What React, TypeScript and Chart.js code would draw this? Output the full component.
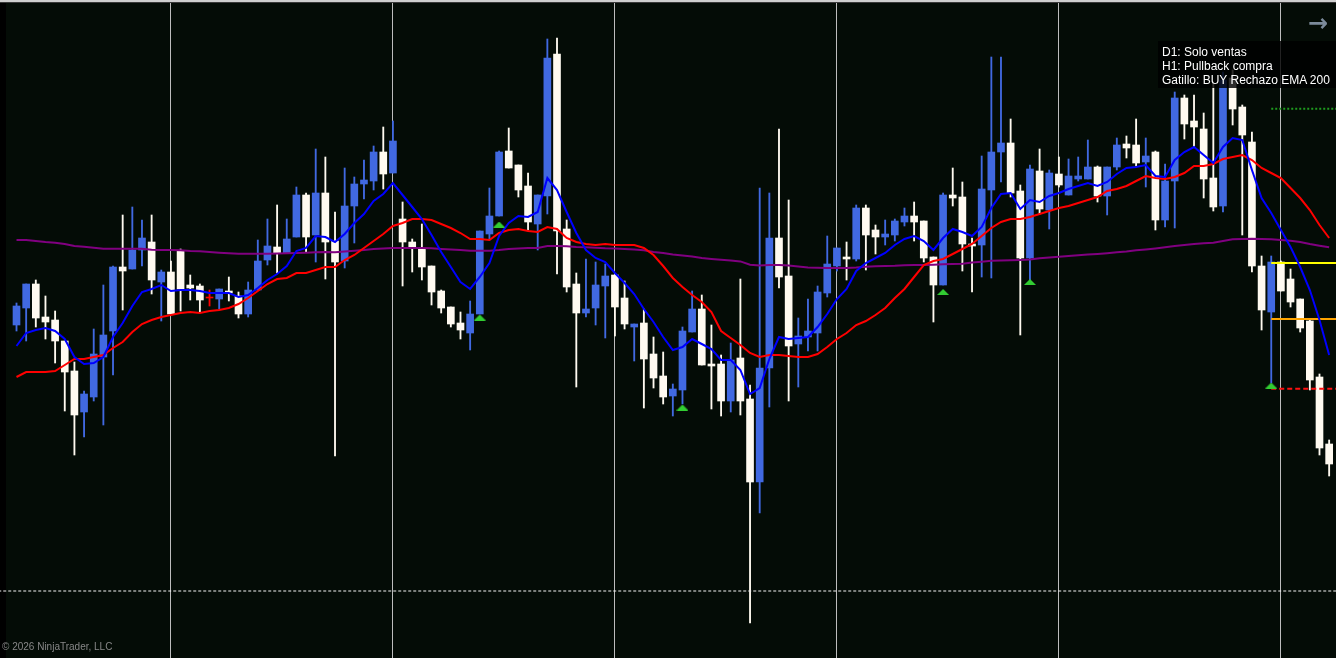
import React, { useEffect, useRef } from "react";
import { Chart, registerables } from "chart.js";

Chart.register(...registerables);

// ---- data (price units, bar index 0..136) ----
const OPEN = [
  335, 352, 376, 343, 340, 319, 289, 248, 263, 303,
  329, 393, 391, 410, 418, 378, 388, 409, 375, 374,
  362, 361, 369, 364, 346, 370, 400, 413, 407, 423,
  465, 425, 467, 419, 399, 454, 476, 479, 508, 487,
  441, 418, 411, 394, 369, 353, 337, 327, 346, 426,
  444, 509, 495, 474, 436, 464, 606, 431, 376, 347,
  352, 374, 385, 362, 333, 337, 306, 284, 264, 270,
  328, 351, 296, 296, 259, 302, 261, 178, 292, 422,
  384, 316, 323, 327, 367, 394, 403, 401, 452, 430,
  423, 425, 438, 444, 439, 403, 375, 465, 463, 416,
  415, 470, 508, 517, 469, 402, 489, 450, 486, 465,
  481, 481, 493, 464, 493, 516, 515, 498, 508, 440,
  479, 562, 539, 531, 482, 454, 582, 553, 518, 394,
  348, 398, 381, 361, 339, 283, 216,
];
const HIGH = [
  357, 376, 380, 364, 349, 319, 298, 269, 331, 375,
  394, 445, 453, 440, 445, 390, 399, 411, 385, 376,
  370, 371, 383, 368, 378, 420, 441, 455, 441, 473,
  467, 511, 503, 448, 492, 483, 500, 514, 533, 539,
  458, 421, 436, 394, 370, 353, 348, 359, 429, 472,
  509, 532, 495, 487, 465, 621, 622, 440, 387, 401,
  398, 396, 385, 379, 336, 351, 323, 308, 276, 333,
  369, 365, 335, 305, 317, 381, 275, 472, 467, 531,
  460, 342, 361, 374, 424, 412, 418, 455, 455, 435,
  440, 441, 452, 458, 439, 403, 467, 492, 478, 422,
  504, 603, 603, 541, 475, 495, 511, 490, 503, 501,
  503, 520, 494, 493, 522, 524, 541, 522, 509, 496,
  568, 565, 565, 547, 578, 588, 590, 555, 528, 404,
  404, 399, 391, 361, 341, 286, 220,
];
const LOW = [
  329, 319, 333, 321, 297, 249, 205, 223, 259, 235,
  285, 350, 391, 394, 366, 339, 346, 349, 360, 348,
  354, 351, 359, 342, 343, 370, 395, 387, 407, 423,
  408, 398, 381, 204, 392, 417, 461, 470, 471, 487,
  374, 388, 380, 355, 347, 333, 321, 310, 346, 420,
  444, 492, 463, 430, 410, 446, 386, 368, 273, 343,
  335, 322, 324, 331, 299, 252, 272, 256, 244, 256,
  328, 295, 251, 244, 248, 245, 37, 147, 253, 372,
  259, 273, 309, 309, 363, 389, 380, 399, 390, 406,
  415, 419, 434, 419, 398, 338, 375, 454, 389, 368,
  383, 382, 478, 463, 325, 380, 446, 431, 473, 465,
  479, 481, 458, 445, 490, 502, 494, 473, 430, 433,
  432, 521, 513, 462, 449, 448, 535, 425, 388, 330,
  277, 369, 353, 328, 270, 205, 184,
];
const CLOSE = [
  354, 376, 342, 338, 319, 288, 245, 266, 306, 325,
  393, 389, 410, 422, 380, 388, 346, 371, 372, 360,
  362, 371, 367, 346, 370, 399, 414, 407, 421, 465,
  423, 467, 418, 398, 454, 476, 480, 508, 486, 519,
  418, 413, 393, 368, 352, 336, 330, 346, 429, 444,
  508, 492, 470, 438, 465, 602, 429, 373, 347, 351,
  375, 384, 353, 336, 336, 301, 282, 263, 271, 329,
  351, 295, 294, 259, 300, 259, 178, 292, 422, 383,
  314, 324, 329, 368, 396, 412, 401, 452, 425, 423,
  426, 439, 444, 438, 402, 375, 465, 462, 416, 414,
  471, 508, 517, 467, 402, 491, 451, 487, 475, 484,
  484, 493, 464, 493, 515, 512, 497, 504, 440, 479,
  562, 536, 533, 481, 453, 580, 551, 525, 394, 350,
  398, 369, 358, 332, 280, 212, 196,
];
const EMA_FAST = [
  314, 327, 330, 332, 329, 321, 303, 296, 297, 303,
  323, 337, 354, 368, 371, 375, 369, 370, 370, 369,
  367, 367, 367, 363, 365, 372, 380, 386, 394, 409,
  412, 424, 423, 418, 426, 437, 446, 459, 466, 477,
  465, 453, 441, 425, 408, 393, 378, 371, 383, 397,
  424, 437, 444, 443, 448, 482, 470, 448, 427, 410,
  402, 398, 387, 377, 366, 351, 338, 323, 310, 313,
  321, 316, 311, 300, 300, 290, 266, 272, 301, 323,
  321, 322, 323, 333, 346, 361, 371, 389, 397, 402,
  407, 415, 421, 424, 419, 410, 422, 431, 428, 424,
  433, 452, 466, 467, 451, 460, 458, 464, 467, 471,
  474, 477, 474, 478, 486, 492, 493, 495, 484, 483,
  500, 508, 513, 505, 497, 513, 522, 520, 490, 462,
  447, 430, 413, 393, 370, 340, 305,
];
const EMA_SLOW = [
  283, 288, 288, 288, 289, 295, 301, 301, 303, 305,
  312, 318, 328, 336, 340, 343, 345, 347, 348, 347,
  349, 350, 352, 356, 362, 369, 376, 381, 382, 387,
  387, 390, 393, 393, 400, 405, 412, 419, 426, 434,
  437, 441, 441, 440, 436, 432, 427, 421, 421, 420,
  427, 430, 431, 429, 428, 433, 431, 422, 418, 416,
  415, 416, 415, 415, 415, 412, 405, 394, 382, 373,
  365, 358, 348, 329, 322, 315, 307, 303, 305, 305,
  304, 303, 303, 306, 313, 321, 327, 335, 339, 345,
  352, 362, 371, 383, 395, 399, 401, 406, 411, 416,
  424, 432, 438, 441, 441, 443, 446, 449, 452, 454,
  457, 460, 463, 469, 471, 474, 479, 484, 482, 481,
  483, 487, 494, 494, 496, 501, 503, 505, 500, 492,
  487, 482, 472, 462, 450, 435, 422,
];
const EMA_200 = [
  420, 420, 419, 418, 417.3, 416, 414, 413.3, 412.3, 411.3,
  411.3, 411.3, 411.3, 411.3, 410.3, 410, 410, 409.7, 409, 408.7,
  408, 407.3, 406.7, 406.3, 406.3, 406.3, 406.3, 406.5, 406.7, 407,
  407.3, 407.7, 408, 407.7, 408.5, 409.3, 410, 411, 411.5, 412,
  412, 412, 412, 411.7, 411, 410.5, 410, 409.3, 409.3, 409.3,
  410, 411, 411.5, 412, 412, 414, 414, 413.7, 413, 412.7,
  412.2, 411.7, 411.5, 411, 410.5, 409.7, 408, 407, 405.5, 404.4,
  403.5, 402, 401, 400.2, 399.5, 398.6, 395.2, 394.4, 395, 395,
  394.4, 393.5, 392.5, 392.2, 392.1, 392, 392, 392.5, 393.3, 393.7,
  394, 394.2, 394.7, 394.9, 395, 395.3, 395.7, 396, 396.3, 397.5,
  398.3, 399.3, 399.5, 399.7, 400, 400.5, 401.7, 402.5, 403.3, 404,
  404.7, 405.4, 406, 406.8, 407.7, 408.5, 409.7, 410.5, 411.5, 412.7,
  414, 415, 416, 416.7, 417.3, 419, 420.7, 421, 421.3, 421,
  420.7, 420, 419.3, 418, 416, 414.3, 412.7,
];
const SIGNAL_BARS = [48, 50, 69, 96, 105, 130];
const SIGNAL_PRICES = [342.5, 435.5, 252.5, 368, 378, 274.5];
const LEVEL_START_BAR = 130;
const LEVEL_TARGET = 551.3;
const LEVEL_ENTRY = 397;
const LEVEL_MID = 341;
const LEVEL_STOP = 271.3;
const LEVEL_LAST = 69;
const GRID_BARS = [16, 39, 62, 85, 108, 131];
const INFO_LINES = ["D1: Solo ventas", "H1: Pullback compra", "Gatillo: BUY Rechazo EMA 200"];

// ---- styles ----
const W = 1336;
const H = 658;
const X_MIN = -1.71;
const X_MAX = 136.71;
const Y_MIN = 2;
const Y_MAX = 660;
const UP = "#4169e1";
const DOWN = "#fffaf0";
const DOJI = "#ff0000";
const BG = "rgb(4,12,6)";

function makeTriangle(color: string): HTMLCanvasElement {
  const c = document.createElement("canvas");
  c.width = 12;
  c.height = 6;
  const ctx = c.getContext("2d")!;
  ctx.fillStyle = color;
  ctx.beginPath();
  ctx.moveTo(6, 0);
  ctx.lineTo(12, 6);
  ctx.lineTo(0, 6);
  ctx.closePath();
  ctx.fill();
  return c;
}

function hLine(y: number, from: number, to: number) {
  return [
    { x: from, y },
    { x: to, y },
  ];
}

export default function App() {
  const ref = useRef<HTMLCanvasElement | null>(null);

  useEffect(() => {
    if (!ref.current) return;
    const idx = OPEN.map((_, i) => i);
    const colorOf = (i: number) =>
      CLOSE[i] === OPEN[i] ? DOJI : CLOSE[i] > OPEN[i] ? UP : DOWN;
    const colors = idx.map(colorOf);
    const tri = makeTriangle("#32cd32");

    const lineBase = {
      type: "line" as const,
      pointRadius: 0,
      tension: 0,
      borderWidth: 2,
      fill: false,
    };

    const chart = new Chart(ref.current, {
      type: "bar",
      data: {
        datasets: [
          {
            type: "scatter",
            data: SIGNAL_BARS.map((b, k) => ({ x: b, y: SIGNAL_PRICES[k] })),
            pointStyle: tri as any,
            pointRadius: 6,
            order: 0,
          } as any,
          {
            ...lineBase,
            data: idx.map((i) => ({ x: i, y: EMA_FAST[i] })),
            borderColor: "#0000ff",
            order: 1,
          },
          {
            ...lineBase,
            data: idx.map((i) => ({ x: i, y: EMA_SLOW[i] })),
            borderColor: "#ff0000",
            order: 2,
          },
          {
            ...lineBase,
            data: idx.map((i) => ({ x: i, y: EMA_200[i] })),
            borderColor: "#800080",
            order: 3,
          },
          {
            ...lineBase,
            data: hLine(LEVEL_TARGET, LEVEL_START_BAR, 140),
            borderColor: "#1f9a1f",
            borderDash: [2, 2],
            order: 4,
          },
          {
            ...lineBase,
            data: hLine(LEVEL_ENTRY, LEVEL_START_BAR, 140),
            borderColor: "#ffff00",
            order: 4,
          },
          {
            ...lineBase,
            data: hLine(LEVEL_MID, LEVEL_START_BAR, 140),
            borderColor: "#ffa500",
            order: 4,
          },
          {
            ...lineBase,
            data: hLine(LEVEL_STOP, LEVEL_START_BAR, 140),
            borderColor: "#ff1010",
            borderDash: [5, 3],
            order: 4,
          },
          {
            ...lineBase,
            data: hLine(LEVEL_LAST, -5, 140),
            borderColor: "#f2f2f2",
            borderWidth: 1,
            borderDash: [3, 2],
            order: 4,
          },
          {
            type: "bar",
            data: idx.map((i) => ({ x: i, y: [OPEN[i], CLOSE[i]] })),
            backgroundColor: colors,
            barThickness: 7,
            minBarLength: 1,
            grouped: false,
            borderWidth: 0,
            order: 8,
          } as any,
          {
            type: "bar",
            data: idx.map((i) => ({ x: i, y: [LOW[i], HIGH[i]] })),
            backgroundColor: colors,
            barThickness: 1.2,
            grouped: false,
            borderWidth: 0,
            order: 9,
          } as any,
        ],
      },
      options: {
        responsive: false,
        maintainAspectRatio: false,
        animation: false,
        events: [],
        layout: { padding: 0, autoPadding: false },
        plugins: {
          legend: { display: false },
          tooltip: { enabled: false },
        },
        scales: {
          x: {
            type: "linear",
            min: X_MIN,
            max: X_MAX,
            offset: false,
            display: true,
            border: { display: false },
            grid: {
              color: "#bdbdbd",
              lineWidth: 1,
              drawTicks: false,
              offset: false,
            },
            ticks: { display: false },
            afterBuildTicks: (scale: any) => {
              scale.ticks = GRID_BARS.map((v) => ({ value: v }));
            },
          },
          y: {
            type: "linear",
            min: Y_MIN,
            max: Y_MAX,
            display: false,
          },
        },
      } as any,
    });
    return () => chart.destroy();
  }, []);

  return (
    <div
      style={{
        position: "fixed",
        left: 0,
        top: 0,
        width: W,
        height: H,
        background: BG,
        overflow: "hidden",
      }}
    >
      <div style={{ position: "absolute", left: 0, top: 0, width: 6, height: H, background: "#000" }} />
      <canvas
        ref={ref}
        width={W}
        height={H}
        style={{ position: "absolute", left: 0, top: 0, width: W, height: H }}
      />
      <div style={{ position: "absolute", left: 0, top: 0, width: W, height: 2, background: "#cfcfcf", zIndex: 3 }} />
      <div style={{ position: "absolute", left: 0, top: 2, width: W, height: 1, background: "#3a3a3a", zIndex: 3 }} />
      <div
        style={{
          position: "absolute",
          left: 1158,
          top: 41,
          width: 178,
          height: 47,
          background: "rgba(0,0,0,0.82)",
          color: "#ffffff",
          fontFamily: "'Liberation Sans', Arial, sans-serif",
          fontSize: 12,
          lineHeight: "14px",
          padding: "4px 0 0 4px",
          boxSizing: "border-box",
          whiteSpace: "nowrap",
          zIndex: 2,
        }}
      >
        {INFO_LINES.map((t) => (
          <div key={t}>{t}</div>
        ))}
      </div>
      <div
        style={{
          position: "absolute",
          left: 1308,
          top: 8,
          color: "#7b8a9a",
          fontFamily: "'DejaVu Sans', sans-serif",
          fontSize: 24,
          fontWeight: "bold",
          lineHeight: "30px",
          zIndex: 2,
        }}
      >
        →
      </div>
      <div
        style={{
          position: "absolute",
          left: 2,
          top: 640,
          color: "#878787",
          fontFamily: "'Liberation Sans', Arial, sans-serif",
          fontSize: 10,
          lineHeight: "14px",
          zIndex: 2,
        }}
      >
        © 2026 NinjaTrader, LLC
      </div>
    </div>
  );
}
